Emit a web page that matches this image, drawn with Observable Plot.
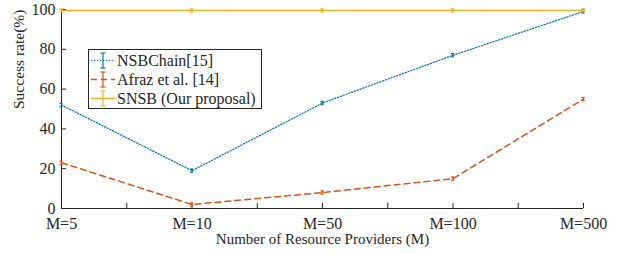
<!DOCTYPE html>
<html><head><meta charset="utf-8">
<script src="https://cdn.jsdelivr.net/npm/d3@7"></script>
<script src="https://cdn.jsdelivr.net/npm/@observablehq/plot@0.6"></script>
<style>
body{margin:0;background:#fff}
#wrap{position:relative;width:623px;height:254px;font-family:"Liberation Serif","Times New Roman","DejaVu Serif",serif;color:#262626}
#wrap svg text{font-family:"Liberation Serif","Times New Roman","DejaVu Serif",serif}
#legend{position:absolute;left:88px;top:49px;width:174px;height:60px;border:1px solid #262626;background:#fff;box-sizing:border-box;padding-top:1px}
.row{display:flex;align-items:center;height:19px;font-size:16px;white-space:nowrap}
.row svg{margin-left:1px;margin-right:1px;flex:none}
</style></head>
<body><div id="wrap"></div>
<script>
const categories = ["M=5", "M=10", "M=50", "M=100", "M=500"];
const seriesNames = ["NSBChain[15]", "Afraz et al. [14]", "SNSB (Our proposal)"];
const nsbchain = [52, 19, 53, 77, 99];
const afraz = [23, 2, 8, 15, 55];
const snsb = [99.5, 99.5, 99.5, 99.5, 99.5];
const errs = [0.8, 0.8, 0.8, 0.8, 0.8];
const yTicks = [0, 20, 40, 60, 80, 100];
const xTicks = [0, 0.5, 1, 1.5, 2, 2.5, 3, 3.5, 4];

const colors = ["#0072BD", "#D95319", "#EDB120"];
const dashes = ["1.3,1.7", "6,4", null];
const widths = [1.2, 1.5, 1.5];
const allVals = [nsbchain, afraz, snsb];
const serif = "'Liberation Serif', 'Times New Roman', 'DejaVu Serif', serif";

const rows = [];
allVals.forEach((vals, s) => vals.forEach((v, i) => rows.push({s, i, v, e: errs[i]})));

const marks = [
  Plot.axisY({ticks: yTicks, tickSize: -5, tickPadding: 11, label: null, fontSize: 16, fontFamily: serif, stroke: "#262626"}),
  Plot.axisX({ticks: xTicks, tickSize: -5, tickPadding: 14, label: null, fontSize: 16, fontFamily: serif,
    tickFormat: d => Number.isInteger(d) ? categories[d] : ""}),
  Plot.ruleX([0], {stroke: "#262626"}),
  Plot.ruleY([0], {stroke: "#262626"}),
];
allVals.forEach((vals, s) => {
  const data = rows.filter(r => r.s === s);
  marks.push(Plot.lineY(data, {x: "i", y: "v", stroke: colors[s], strokeWidth: widths[s], strokeDasharray: dashes[s]}));
  marks.push(Plot.ruleX(data, {x: "i", y1: d => d.v - d.e, y2: d => d.v + d.e, stroke: colors[s], strokeWidth: 1.5}));
  marks.push(Plot.ruleY(data, {y: d => d.v - d.e, x1: d => d.i - 0.012, x2: d => d.i + 0.012, stroke: colors[s], strokeWidth: 1.2}));
  marks.push(Plot.ruleY(data, {y: d => d.v + d.e, x1: d => d.i - 0.012, x2: d => d.i + 0.012, stroke: colors[s], strokeWidth: 1.2}));
});
marks.push(Plot.text(["Success rate(%)"], {frameAnchor: "left", rotate: -90, dx: -42, fontSize: 15.5, fontFamily: serif, fill: "#262626"}));
marks.push(Plot.text(["Number of Resource Providers (M)"], {frameAnchor: "bottom", dy: 35, fontSize: 15, fontFamily: serif, fill: "#262626"}));

const chart = Plot.plot({
  width: 623, height: 254,
  marginLeft: 61, marginRight: 40, marginTop: 9, marginBottom: 46,
  x: {domain: [0, 4]},
  y: {domain: [0, 100]},
  style: {fontFamily: serif, color: "#262626", background: "white", overflow: "visible"},
  marks
});
const wrap = document.getElementById("wrap");
wrap.appendChild(chart);

const legend = document.createElement("div");
legend.id = "legend";
seriesNames.forEach((name, s) => {
  const row = document.createElement("div");
  row.className = "row";
  const ns = "http://www.w3.org/2000/svg";
  const svg = document.createElementNS(ns, "svg");
  svg.setAttribute("width", 26); svg.setAttribute("height", 19);
  const mk = (tag, attrs) => { const el = document.createElementNS(ns, tag); for (const k in attrs) el.setAttribute(k, attrs[k]); svg.appendChild(el); };
  mk("line", {x1: 1, x2: 25, y1: 9.5, y2: 9.5, stroke: colors[s], "stroke-width": widths[s], "stroke-dasharray": dashes[s] || "none"});
  mk("line", {x1: 13, x2: 13, y1: 2, y2: 17, stroke: colors[s], "stroke-width": 1.2});
  mk("line", {x1: 10.5, x2: 15.5, y1: 2, y2: 2, stroke: colors[s], "stroke-width": 1.2});
  mk("line", {x1: 10.5, x2: 15.5, y1: 17, y2: 17, stroke: colors[s], "stroke-width": 1.2});
  row.appendChild(svg);
  const t = document.createElement("span");
  t.textContent = name;
  row.appendChild(t);
  legend.appendChild(row);
});
wrap.appendChild(legend);
</script>
</body></html>
